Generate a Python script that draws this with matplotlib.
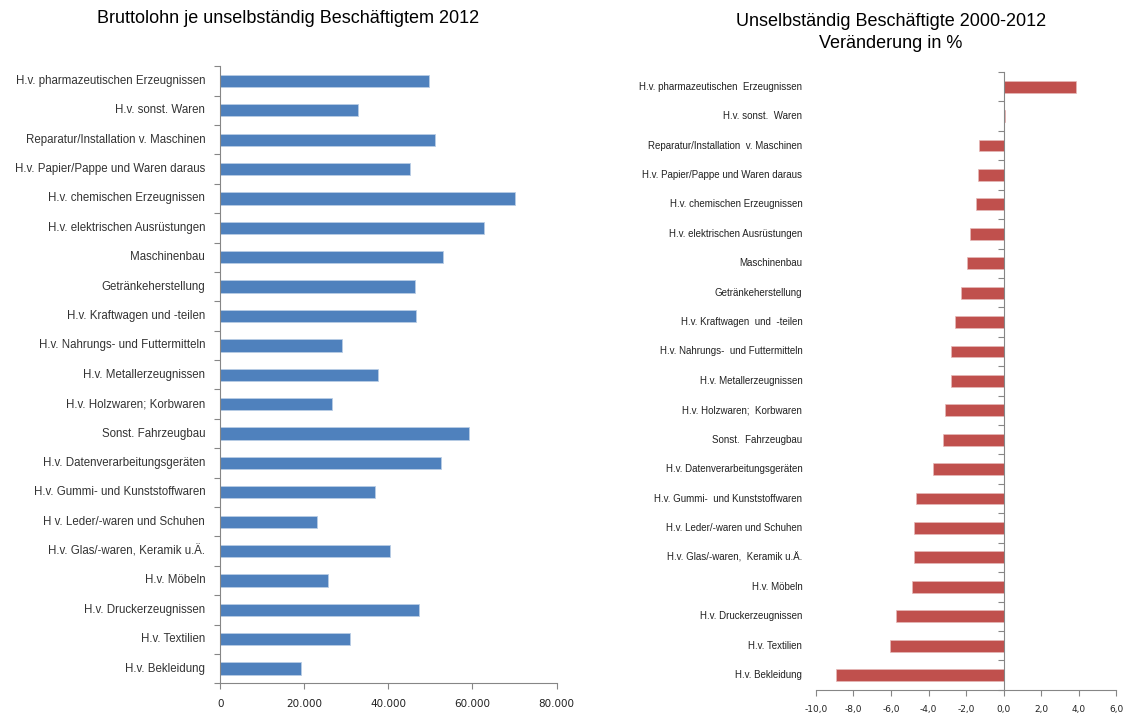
import numpy as np
import matplotlib
matplotlib.use("Agg")
import matplotlib.pyplot as plt
from matplotlib.ticker import FuncFormatter

# categories, top to bottom
branchen = [
    "H.v. pharmazeutischen Erzeugnissen",
    "H.v. sonst. Waren",
    "Reparatur/Installation v. Maschinen",
    "H.v. Papier/Pappe und Waren daraus",
    "H.v. chemischen Erzeugnissen",
    "H.v. elektrischen Ausrüstungen",
    "Maschinenbau",
    "Getränkeherstellung",
    "H.v. Kraftwagen und -teilen",
    "H.v. Nahrungs- und Futtermitteln",
    "H.v. Metallerzeugnissen",
    "H.v. Holzwaren; Korbwaren",
    "Sonst. Fahrzeugbau",
    "H.v. Datenverarbeitungsgeräten",
    "H.v. Gummi- und Kunststoffwaren",
    "H v. Leder/-waren und Schuhen",
    "H.v. Glas/-waren, Keramik u.Ä.",
    "H.v. Möbeln",
    "H.v. Druckerzeugnissen",
    "H.v. Textilien",
    "H.v. Bekleidung",
]
branchen_rechts = [
    "H.v. pharmazeutischen  Erzeugnissen",
    "H.v. sonst.  Waren",
    "Reparatur/Installation  v. Maschinen",
    "H.v. Papier/Pappe und Waren daraus",
    "H.v. chemischen Erzeugnissen",
    "H.v. elektrischen Ausrüstungen",
    "Maschinenbau",
    "Getränkeherstellung",
    "H.v. Kraftwagen  und  -teilen",
    "H.v. Nahrungs-  und Futtermitteln",
    "H.v. Metallerzeugnissen",
    "H.v. Holzwaren;  Korbwaren",
    "Sonst.  Fahrzeugbau",
    "H.v. Datenverarbeitungsgeräten",
    "H.v. Gummi-  und Kunststoffwaren",
    "H.v. Leder/-waren und Schuhen",
    "H.v. Glas/-waren,  Keramik u.Ä.",
    "H.v. Möbeln",
    "H.v. Druckerzeugnissen",
    "H.v. Textilien",
    "H.v. Bekleidung",
]

# Bruttolohn 2012 in Euro
bruttolohn = [49600, 32700, 51000, 45100, 70000, 62800, 52900, 46300, 46600,
              29000, 37400, 26500, 59200, 52600, 36900, 23100, 40300, 25600,
              47200, 30800, 19100]

# Veraenderung Beschaeftigte 2000-2012 in %
veraenderung = [3.87, 0.06, -1.33, -1.37, -1.46, -1.80, -1.98, -2.30, -2.57,
                -2.81, -2.82, -3.15, -3.24, -3.74, -4.68, -4.77, -4.80, -4.86,
                -5.71, -6.03, -8.94]

blau = "#4F81BD"
rot = "#C0504D"
grau = "#868686"

fig = plt.figure(figsize=(11.3, 7.2), dpi=100)
ax1 = fig.add_axes([0.195, 0.051, 0.2975, 0.857])
ax2 = fig.add_axes([0.722, 0.042, 0.266, 0.858])

y = np.arange(len(branchen))

# --- links: Bruttolohn
ax1.barh(y, bruttolohn, height=0.42, color=blau, edgecolor="#B9CDE5", linewidth=0.6)
ax1.set_xlim(0, 80000)
ax1.set_ylim(len(branchen) - 0.5, -0.5)
ax1.set_xticks([0, 20000, 40000, 60000, 80000])
ax1.xaxis.set_major_formatter(FuncFormatter(lambda v, p: f"{int(v):,}".replace(",", ".")))
for i, name in enumerate(branchen):
    ax1.text(-0.045, i, name, transform=ax1.get_yaxis_transform(), ha="right",
             va="center", fontsize=8.3, color="#333333", family="Liberation Sans")
ax1.set_title("Bruttolohn je unselbständig Beschäftigtem 2012", fontsize=13,
              family="Liberation Sans", x=0.2, pad=31)

# --- rechts: Veraenderung
ax2.barh(y, veraenderung, height=0.4, color=rot, edgecolor="#E6B9B8", linewidth=0.5)
ax2.set_xlim(-10, 6)
ax2.set_ylim(len(branchen) - 0.5, -0.5)
ax2.set_xticks(np.arange(-10, 7, 2))
ax2.xaxis.set_major_formatter(FuncFormatter(lambda v, p: f"{v:.1f}".replace(".", ",")))
ax2.spines["left"].set_position(("data", 0))
for i, name in enumerate(branchen_rechts):
    ax2.text(-0.045, i, name, transform=ax2.get_yaxis_transform(), ha="right",
             va="center", fontsize=7, color="#222222", family="Liberation Sans")
ax2.set_title("Unselbständig Beschäftigte 2000-2012\nVeränderung in %", fontsize=13,
              family="Liberation Sans", x=0.25, pad=17, linespacing=1.45)

for ax, fs in ((ax1, 7.5), (ax2, 6.5)):
    ax.set_yticks(np.arange(-0.5, len(branchen), 1))
    ax.set_yticklabels([])
    ax.spines["top"].set_visible(False)
    ax.spines["right"].set_visible(False)
    ax.spines["left"].set_color(grau)
    ax.spines["bottom"].set_color(grau)
    ax.tick_params(axis="both", color=grau, length=4, width=0.8, direction="out")
    ax.tick_params(axis="x", labelsize=fs, labelcolor="#222222", pad=7)

fig.savefig("out.png", dpi=100)
